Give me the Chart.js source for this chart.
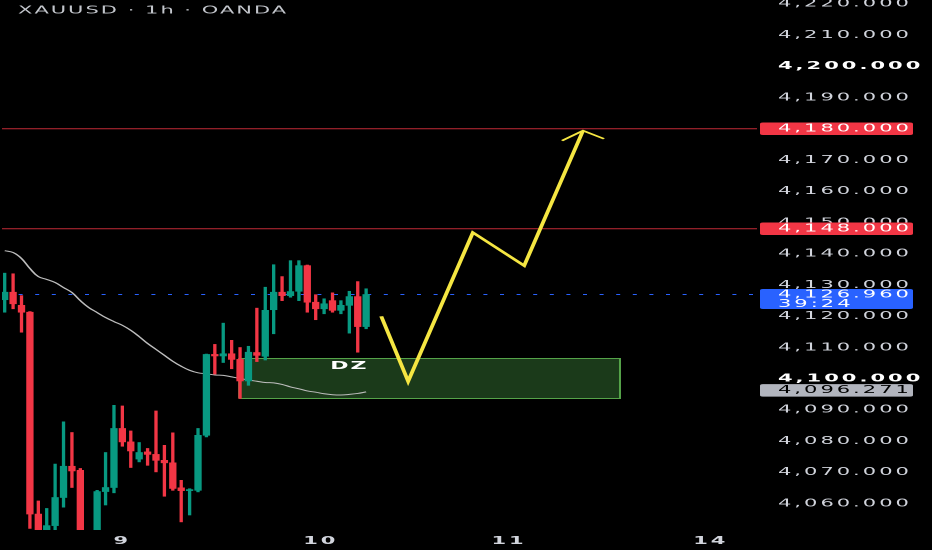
<!DOCTYPE html>
<html>
<head>
<meta charset="utf-8">
<title>XAUUSD 1h</title>
<script src="https://cdn.jsdelivr.net/npm/chart.js@4.4.1/dist/chart.umd.min.js"></script>
<style>
    html, body { margin: 0; padding: 0; background: #000; overflow: hidden; }
    /* the source screenshot is stretched 2x horizontally, so draw at half width and stretch */
    #wrap { width: 466px; height: 550px; transform: scaleX(2); transform-origin: 0 0; }
</style>
</head>
<body>
<div id="wrap"><canvas id="xau-chart"></canvas></div>
<script>
// hourly candles, index = bar slot
const opens  = [4125.3, 4127.7, 4123.5, 4121.3, 4056.7, 4049.0, 4053.0, 4062.0, 4072.0, 4070.7,
                4046.0, 4049.0, 4063.9, 4065.2, 4084.1, 4079.8, 4074.3, 4076.6, 4075.8, 4073.9,
                4073.1, 4065.1, 4064.2, 4064.3, 4081.9, 4107.8, 4107.3, 4108.0, 4106.2, 4099.3,
                4108.4, 4107.2, 4122.1, 4127.7, 4126.6, 4128.0, 4136.2, 4124.5, 4122.4, 4125.0,
                4121.9, 4123.5, 4126.3, 4116.7];
const highs  = [4133.8, 4133.6, 4126.6, 4121.5, 4060.9, 4058.5, 4072.7, 4086.2, 4082.8, 4071.3,
                4050.5, 4064.3, 4076.4, 4091.5, 4091.3, 4083.3, 4079.6, 4077.7, 4089.7, 4078.7,
                4082.7, 4067.5, 4064.8, 4084.1, 4107.9, 4111.0, 4117.8, 4112.3, 4110.0, 4110.4,
                4122.6, 4129.3, 4136.5, 4132.7, 4137.8, 4137.8, 4136.4, 4126.9, 4125.6, 4127.5,
                4125.0, 4128.0, 4131.1, 4128.8];
const lows   = [4121.3, 4122.4, 4114.9, 4052.1, 4046.0, 4046.5, 4049.0, 4058.9, 4065.2, 4045.0,
                4044.0, 4046.5, 4059.6, 4063.5, 4078.4, 4071.6, 4073.4, 4072.3, 4070.2, 4062.4,
                4064.3, 4054.2, 4056.4, 4063.8, 4081.4, 4101.5, 4105.2, 4103.2, 4093.7, 4097.9,
                4105.5, 4106.0, 4114.4, 4125.0, 4126.1, 4125.0, 4121.3, 4118.9, 4120.8, 4121.3,
                4120.8, 4114.6, 4108.5, 4116.0];
const closes = [4127.7, 4124.0, 4121.3, 4056.7, 4049.5, 4053.0, 4062.0, 4072.0, 4070.5, 4048.0,
                4049.0, 4063.9, 4065.2, 4084.1, 4079.8, 4076.9, 4076.4, 4075.8, 4073.9, 4073.1,
                4064.9, 4064.2, 4064.5, 4081.9, 4107.8, 4107.3, 4108.0, 4106.2, 4099.3, 4108.5,
                4107.5, 4121.9, 4127.7, 4126.6, 4127.9, 4136.2, 4124.5, 4122.4, 4124.0, 4121.9,
                4123.5, 4126.3, 4116.7, 4126.96];
// moving average (grey line)
const movingAvg = [4141.0, 4140.4, 4138.5, 4135.3, 4132.7, 4131.8, 4130.8, 4129.2, 4127.6, 4125.0,
                   4122.8, 4121.2, 4119.6, 4118.3, 4117.1, 4115.5, 4113.5, 4111.3, 4109.4, 4107.5,
                   4105.6, 4104.0, 4102.7, 4101.9, 4101.6, 4101.2, 4101.1, 4100.6, 4100.1, 4099.6,
                   4099.2, 4098.8, 4098.7, 4098.2, 4097.4, 4096.8, 4096.1, 4095.7, 4095.2, 4094.9,
                   4094.8, 4095.0, 4095.3, 4095.8];

// drawn projection path + arrow head
const pathSlots  = [44.8, 48.0, 55.7, 61.8, 68.8];
const pathPrices = [4120.0, 4099.2, 4146.8, 4136.2, 4179.4];
const arrowSlots  = [66.3, 68.8, 71.3];
const arrowPrices = [4176.2, 4179.4, 4176.8];

// demand zone "DZ"
const zoneSlots  = [27.9, 73.2];
const zonePrices = [4093.7, 4106.5];

// levels and tags
const resistanceLevels = [4180, 4148];
const lastPrice = 4126.96;
const countdown = '39:24';
const maValue = 4096.271;

// axes
const priceTicks = [4060, 4070, 4080, 4090, 4100, 4110, 4120, 4130, 4140, 4150,
                    4160, 4170, 4180, 4190, 4200, 4210, 4220];
const dayTickSlots  = [14, 37.6, 60, 84];
const dayTickLabels = ['9', '10', '11', '14'];
const slotMin = -0.32, slotMax = 89.5;
const priceMin = 4051.6, priceMax = 4220.9;

const upColor = '#089981';
const downColor = '#f23645';
const axisFont = 'DejaVu Sans';

function fmtPrice(v) {
    return v.toLocaleString('en-US', { minimumFractionDigits: 3, maximumFractionDigits: 3 });
}

// round hundreds are drawn brighter and bold on the price axis
function isRound(c) {
    return !!(c && c.tick && c.tick.value % 100 === 0);
}

// overlays: title, DZ label and right side price tags
const overlayPlugin = {
    id: 'overlay',
    beforeLayout(chart) { chart.ctx.letterSpacing = '1.5px'; },
    beforeDraw(chart) {
        const ctx = chart.ctx;
        ctx.save();
        ctx.fillStyle = '#000';
        ctx.fillRect(0, 0, chart.width, chart.height);
        ctx.restore();
        ctx.letterSpacing = '1.5px';
    },
    afterDraw(chart) {
        const ctx = chart.ctx;
        const x = chart.scales.x, y = chart.scales.y;
        const area = chart.chartArea;
        ctx.save();
        ctx.textBaseline = 'middle';

        // title
        ctx.letterSpacing = '1px';
        ctx.font = '10.5px ' + axisFont;
        ctx.fillStyle = '#c3c6cc';
        ctx.fillText('XAUUSD · 1h · OANDA', 9, 11);

        // DZ label
        ctx.letterSpacing = '1px';
        ctx.font = 'bold 11px ' + axisFont;
        ctx.fillStyle = '#ffffff';
        ctx.textAlign = 'center';
        ctx.fillText('DZ', x.getPixelForValue(41), y.getPixelForValue(4104));

        // price tags
        ctx.textAlign = 'left';
        ctx.letterSpacing = '1.5px';
        ctx.font = '10.5px ' + axisFont;
        const left = area.right + 1.5, w = 76.5, tx = area.right + 10.5;
        function tag(price, bg, fg, lines) {
            const py = y.getPixelForValue(price);
            const h = lines.length > 1 ? 20 : 12.5;
            const top = lines.length > 1 ? py - 5.5 : py - 6.3;
            ctx.fillStyle = bg;
            ctx.beginPath();
            ctx.roundRect(left, top, w, h, 1.5);
            ctx.fill();
            ctx.fillStyle = fg;
            lines.forEach((t, i) => ctx.fillText(t, tx, py + i * 9.5));
        }
        resistanceLevels.forEach(l => tag(l, '#f23645', '#ffffff', [fmtPrice(l)]));
        tag(lastPrice, '#2962ff', '#ffffff', [fmtPrice(lastPrice), countdown]);
        tag(maValue, '#b2b5be', '#000000', [fmtPrice(maValue)]);
        ctx.restore();
    }
};

function hLine(price, color, dash, order) {
    return {
        type: 'line',
        data: [{ x: slotMin, y: price }, { x: slotMax, y: price }],
        borderColor: color, borderWidth: 1, borderDash: dash,
        pointRadius: 0, order: order
    };
}

function createCandleChart(targetID) {
    const slots = opens.map((_, i) => i);
    const colors = opens.map((o, i) => closes[i] >= o ? upColor : downColor);
    const ctx = document.getElementById(targetID).getContext('2d');
    return new Chart(ctx, {
        type: 'bar',
        data: {
            datasets: [
                {
                    // demand zone rectangle
                    type: 'line',
                    data: [
                        { x: zoneSlots[0], y: zonePrices[0] }, { x: zoneSlots[0], y: zonePrices[1] },
                        { x: zoneSlots[1], y: zonePrices[1] }, { x: zoneSlots[1], y: zonePrices[0] },
                        { x: zoneSlots[0], y: zonePrices[0] }
                    ],
                    borderColor: '#55a349', borderWidth: 1,
                    backgroundColor: '#1b3a1a', fill: 'shape',
                    pointRadius: 0, tension: 0, order: 10
                },
                ...resistanceLevels.map(l => hLine(l, 'rgba(242,54,69,0.8)', [], 9)),
                hLine(lastPrice, '#2962ff', [2, 6.3], 8),
                {
                    type: 'line',
                    data: slots.map(i => ({ x: i, y: movingAvg[i] })),
                    borderColor: '#bdbdbd', borderWidth: 1,
                    pointRadius: 0, tension: 0.4, order: 7
                },
                {
                    // wicks
                    data: slots.map(i => ({ x: i, y: [lows[i], highs[i]] })),
                    backgroundColor: colors, barThickness: 1, grouped: false, order: 3
                },
                {
                    // bodies
                    data: slots.map(i => ({ x: i, y: [opens[i], closes[i]] })),
                    backgroundColor: colors, barThickness: 3, grouped: false,
                    minBarLength: 1, order: 2
                },
                {
                    type: 'line',
                    data: pathSlots.map((s, i) => ({ x: s, y: pathPrices[i] })),
                    borderColor: '#f5e642', borderWidth: 2, borderJoinStyle: 'miter',
                    pointRadius: 0, tension: 0, order: 1
                },
                {
                    type: 'line',
                    data: arrowSlots.map((s, i) => ({ x: s, y: arrowPrices[i] })),
                    borderColor: '#f5e642', borderWidth: 1.5,
                    pointRadius: 0, tension: 0, order: 1
                }
            ]
        },
        options: {
            responsive: true,
            maintainAspectRatio: false,
            devicePixelRatio: 2,
            animation: false,
            layout: { padding: 0 },
            plugins: { legend: { display: false }, tooltip: { enabled: false } },
            scales: {
                x: {
                    type: 'linear', min: slotMin, max: slotMax, offset: false,
                    grid: { display: false, drawTicks: false }, border: { display: false },
                    afterBuildTicks: s => { s.ticks = dayTickSlots.map(v => ({ value: v })); },
                    afterFit: s => { s.height = 20; s.paddingLeft = 0; s.paddingRight = 0; },
                    ticks: {
                        padding: 5, color: '#d1d4dc', maxRotation: 0, autoSkip: false,
                        font: { family: axisFont, size: 10.5, weight: 'bold' },
                        callback: v => dayTickLabels[dayTickSlots.indexOf(v)]
                    }
                },
                y: {
                    position: 'right', min: priceMin, max: priceMax,
                    grid: { display: false, drawTicks: false }, border: { display: false },
                    afterBuildTicks: s => { s.ticks = priceTicks.map(v => ({ value: v })); },
                    afterFit: s => { s.width = 87.5; s.paddingTop = 0; s.paddingBottom = 0; },
                    ticks: {
                        padding: 10.5,
                        color: c => isRound(c) ? '#ffffff' : '#d1d4dc',
                        font: c => ({ family: axisFont, size: 10.5,
                                      weight: isRound(c) ? 'bold' : 'normal' }),
                        callback: v => fmtPrice(v)
                    }
                }
            }
        },
        plugins: [overlayPlugin]
    });
}

createCandleChart('xau-chart');
</script>
</body>
</html>
